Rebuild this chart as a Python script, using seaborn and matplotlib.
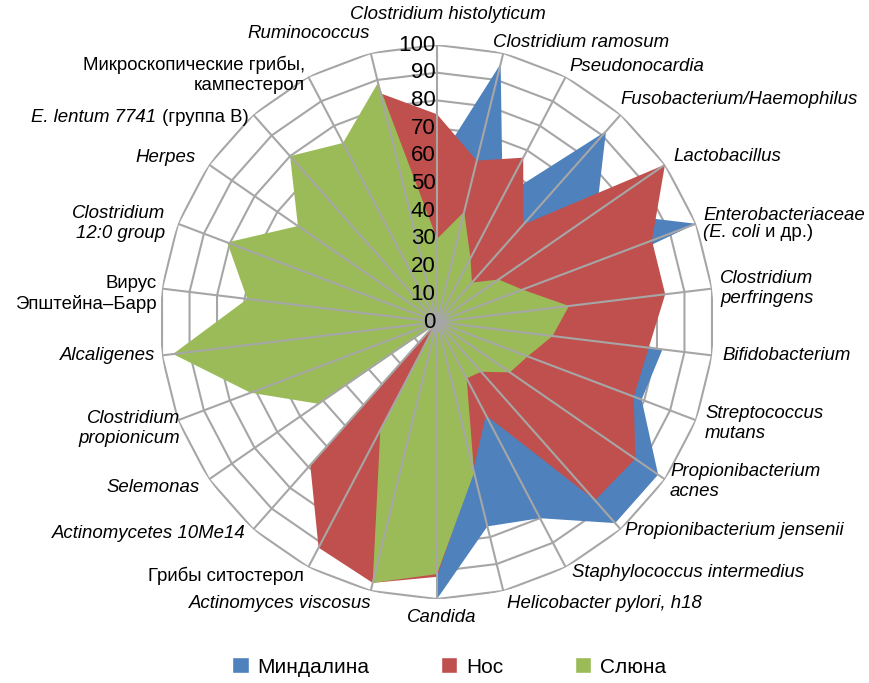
import matplotlib
matplotlib.use("Agg")
import matplotlib.pyplot as plt
from matplotlib import font_manager
from matplotlib.patches import Patch
import numpy as np
import seaborn as sns

categories = [
    "Clostridium histolyticum", "Clostridium ramosum", "Pseudonocardia",
    "Fusobacterium/Haemophilus", "Lactobacillus",
    "Enterobacteriaceae\n(E. coli и др.)", "Clostridium\nperfringens",
    "Bifidobacterium", "Streptococcus\nmutans", "Propionibacterium\nacnes",
    "Propionibacterium jensenii", "Staphylococcus intermedius",
    "Helicobacter pylori, h18", "Candida", "Actinomyces viscosus",
    "Грибы ситостерол", "Actinomycetes 10Me14", "Selemonas",
    "Clostridium\npropionicum", "Alcaligenes", "Вирус\nЭпштейна–Барр",
    "Clostridium\n12:0 group", "Herpes", "E. lentum 7741 (группа В)",
    "Микроскопические грибы,\nкампестерол", "Ruminococcus",
]
# labels written upright (Cyrillic); the rest are italic
upright = {"Грибы ситостерол", "Вирус\nЭпштейна–Барр",
           "Микроскопические грибы,\nкампестерол"}

mindalina = [57, 96, 51, 92, 70, 100, 25, 82, 79, 97, 97, 80, 76, 100,
             0, 0, 0, 0, 0, 0, 0, 0, 0, 0, 0, 0]
nos = [75, 60, 67, 47, 100, 83, 83, 77, 76, 87, 86, 38, 55, 92,
       97, 92, 69, 0, 0, 0, 0, 0, 0, 0, 0, 85]
sliuna = [30, 41, 26, 19, 27, 33, 48, 42, 35, 32, 24, 23, 56, 91,
          97, 44, 2, 52, 72, 96, 69, 81, 61, 80, 73, 89]

series_names = ["Миндалина", "Нос", "Слюна"]
radial_ticks = [0, 10, 20, 30, 40, 50, 60, 70, 80, 90, 100]

palette = sns.color_palette(["#4F81BD", "#C0504D", "#9BBB59"])
grid_color = "#A6A6A6"

# label nudges in pixels (right, up) from the outer ring vertex, text centred
label_nudge = [(11, 31), (-10, 11), (4, 10), (0, 15), (8, 8), (7, 0), (8, 0),
               (10, 0), (9, -3), (5, -2), (4, -1), (6, -5), (4, -13), (5, -19),
               (1, -13), (-4, -9), (-8, -4), (-9, -8), (2, -8), (-7, 0),
               (-5, -5), (-13, 0), (-13, 7), (-5, -3), (-3, 2), (-1, 20)]

sns.set_style("white")
installed = {f.name for f in font_manager.fontManager.ttflist}
if "Liberation Sans Narrow" in installed:
    main_font, cat_size, tick_size, leg_size = "Liberation Sans Narrow", 16, 18, 17
else:
    main_font, cat_size, tick_size, leg_size = "Liberation Sans", 13.4, 16, 15
plt.rcParams["font.family"] = [main_font, "DejaVu Sans"]
plt.rcParams["text.color"] = "black"

fig = plt.figure(figsize=(8.7, 6.83), dpi=100)
ax = fig.add_axes([0.1839, 0.123, 0.6368, 0.8111], projection="polar")
ax.set_theta_zero_location("N")
ax.set_theta_direction(-1)
ax.set_ylim(0, 100)
ax.grid(False)
ax.spines["polar"].set_visible(False)
ax.set_xticks([])
ax.set_yticks([])

n = len(categories)
theta = np.linspace(0, 2 * np.pi, n, endpoint=False)
closed = np.append(theta, theta[0])

# polygon rings
for t in radial_ticks[1:]:
    ax.plot(closed, [t] * (n + 1), color=grid_color, lw=1.5, zorder=1)

for values, color in zip([mindalina, nos, sliuna], palette):
    ax.fill(closed, values + values[:1], color=color, lw=0, zorder=2)

# spokes drawn over the areas
for a in theta:
    ax.plot([a, a], [0, 100], color=grid_color, lw=1.5, zorder=3)

for t in radial_ticks:
    ax.annotate(str(t), xy=(0, t), xytext=(-1, 0), textcoords="offset points",
                ha="right", va="center", fontsize=tick_size, zorder=5)

px = 72 / fig.dpi


def label_at(i, text, style, va="center"):
    a = theta[i]
    s = np.sin(a)
    ha = "left" if s > 0.05 else "right" if s < -0.05 else "center"
    dx, dy = label_nudge[i]
    return ax.annotate(text, xy=(a, 100), xytext=(dx * px, dy * px),
                       textcoords="offset points", ha=ha, va=va,
                       multialignment=ha if ha != "center" else "center",
                       fontsize=cat_size, fontstyle=style,
                       annotation_clip=False)


for i, cat in enumerate(categories):
    if cat.startswith("Enterobacteriaceae"):
        t1 = label_at(i, "Enterobacteriaceae", "italic", va="bottom")
        t2 = ax.annotate("(E. coli", xy=(0, 0), xycoords=t1, ha="left", va="top",
                         fontsize=cat_size, fontstyle="italic")
        ax.annotate(" и др.)", xy=(1, 0), xycoords=t2, ha="left", va="bottom",
                    fontsize=cat_size)
    elif cat.startswith("E. lentum"):
        t1 = label_at(i, " (группа В)", "normal")
        ax.annotate("E. lentum 7741", xy=(0, 0), xycoords=t1, ha="right",
                    va="bottom", fontsize=cat_size, fontstyle="italic")
    else:
        label_at(i, cat, "normal" if cat in upright else "italic")

handles = [Patch(facecolor=c, label=name) for c, name in zip(palette, series_names)]
fig.legend(handles=handles, loc="center", bbox_to_anchor=(0.516, 0.0234),
           ncol=3, frameon=False, fontsize=leg_size, handlelength=0.8,
           handleheight=0.8, handletextpad=0.4, columnspacing=3.45)

fig.savefig("out.png", dpi=100)
